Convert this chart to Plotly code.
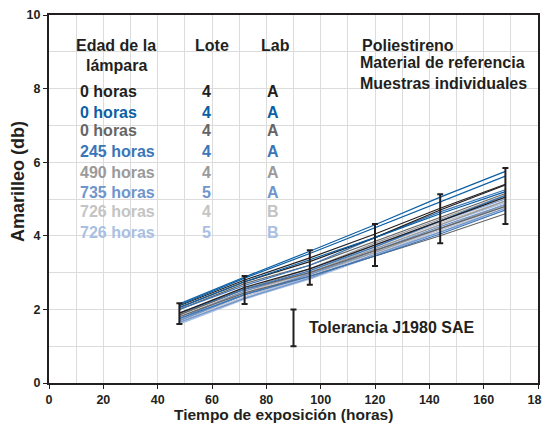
import plotly.graph_objects as go

x_hours = [48, 72, 96, 120, 144, 168]

# one group per lamp age / lot / lab row, 3 samples each
group_labels = ["0 horas", "0 horas", "0 horas", "245 horas", "490 horas", "735 horas", "726 horas", "726 horas"]
group_lote = ["4", "4", "4", "4", "4", "5", "4", "5"]
group_lab = ["A", "A", "A", "A", "A", "A", "B", "B"]
group_colors = ["#231f20", "#0b5fa5", "#666666", "#3a76b8", "#9a9a9a", "#6f95cc", "#c4c4c4", "#a9bfe3"]

yellow = [
    [[2.10, 2.80, 3.40, 4.05, 4.75, 5.40], [2.05, 2.75, 3.30, 3.95, 4.70, 5.38], [1.90, 2.60, 3.10, 3.75, 4.40, 5.05]],
    [[2.15, 2.88, 3.58, 4.30, 5.05, 5.75], [2.12, 2.85, 3.52, 4.22, 4.92, 5.62], [2.05, 2.75, 3.35, 3.95, 4.60, 5.20]],
    [[2.00, 2.70, 3.20, 3.85, 4.50, 5.15], [1.85, 2.55, 3.00, 3.60, 4.20, 4.80], [1.80, 2.45, 2.90, 3.45, 4.00, 4.60]],
    [[2.00, 2.65, 3.20, 3.95, 4.65, 5.25], [1.90, 2.55, 3.05, 3.70, 4.40, 5.10], [1.75, 2.40, 2.90, 3.45, 4.05, 4.70]],
    [[1.85, 2.55, 3.10, 3.80, 4.45, 5.10], [1.80, 2.50, 3.00, 3.65, 4.30, 4.95], [1.70, 2.40, 2.95, 3.55, 4.20, 4.85]],
    [[1.75, 2.50, 3.05, 3.75, 4.40, 5.00], [1.70, 2.40, 2.95, 3.60, 4.25, 4.85], [1.65, 2.30, 2.85, 3.50, 4.10, 4.75]],
    [[1.70, 2.45, 3.00, 3.70, 4.35, 4.95], [1.65, 2.35, 2.90, 3.60, 4.20, 4.85], [1.62, 2.30, 2.85, 3.50, 4.15, 4.75]],
    [[1.68, 2.40, 2.98, 3.65, 4.30, 4.90], [1.62, 2.32, 2.88, 3.55, 4.18, 4.80], [1.60, 2.28, 2.82, 3.45, 4.10, 4.70]],
]

# tolerance band limits at each exposure time
err_low = [1.60, 2.15, 2.67, 3.18, 3.80, 4.32]
err_high = [2.17, 2.91, 3.61, 4.32, 5.13, 5.84]

# SAE J1980 tolerance key
tol_x = 90
tol_low = 1.0
tol_high = 2.0

x_ticks = [0, 20, 40, 60, 80, 100, 120, 140, 160, 180]
y_ticks = [0, 2, 4, 6, 8, 10]

fig = go.Figure()

# draw lightest groups first so darker lines sit on top
order = [6, 7, 4, 5, 2, 3, 0, 1]
for g in order:
    for s in yellow[g]:
        fig.add_trace(go.Scatter(x=x_hours, y=s, mode="lines",
                                 line=dict(color=group_colors[g], width=1.2),
                                 showlegend=False, hoverinfo="skip"))

mid = [(a + b) / 2 for a, b in zip(err_low, err_high)]
fig.add_trace(go.Scatter(
    x=x_hours, y=mid, mode="markers", marker=dict(size=0.1, color="#231f20"),
    error_y=dict(type="data", symmetric=False,
                 array=[h - m for h, m in zip(err_high, mid)],
                 arrayminus=[m - l for m, l in zip(mid, err_low)],
                 color="#231f20", thickness=2, width=3),
    showlegend=False))

tol_mid = (tol_low + tol_high) / 2
fig.add_trace(go.Scatter(
    x=[tol_x], y=[tol_mid], mode="markers", marker=dict(size=0.1, color="#231f20"),
    error_y=dict(type="data", array=[tol_high - tol_mid], color="#231f20", thickness=2, width=3),
    showlegend=False))

font = "Liberation Sans"
bold = dict(family=font, size=16, color="#231f20", weight="bold")

ann = []
ann.append(dict(x=24.7, y=9.18, text="Edad de la", showarrow=False, font=bold))
ann.append(dict(x=24.7, y=8.64, text="lámpara", showarrow=False, font=bold))
ann.append(dict(x=60, y=9.18, text="Lote", showarrow=False, font=bold))
ann.append(dict(x=83.4, y=9.18, text="Lab", showarrow=False, font=bold))

row_y = [7.91, 7.36, 6.85, 6.28, 5.73, 5.19, 4.65, 4.08]
for i in range(8):
    f = dict(bold, color=group_colors[i])
    ann.append(dict(x=10.7, y=row_y[i], text=group_labels[i], showarrow=False, xanchor="left", font=f))
    ann.append(dict(x=58, y=row_y[i], text=group_lote[i], showarrow=False, font=f))
    ann.append(dict(x=82.6, y=row_y[i], text=group_lab[i], showarrow=False, font=f))

ann.append(dict(x=114.5, y=9.18, text="Poliestireno", showarrow=False, xanchor="left", font=bold))
ann.append(dict(x=113.6, y=8.70, text="Material de referencia", showarrow=False, xanchor="left", font=bold))
ann.append(dict(x=113.6, y=8.15, text="Muestras individuales", showarrow=False, xanchor="left", font=bold))
ann.append(dict(x=94.8, y=1.52, text="Tolerancia J1980 SAE", showarrow=False, xanchor="left", font=bold))

# axis titles as annotations for exact placement
ann.append(dict(x=86.3, xref="x", y=0, yref="paper", yshift=-31, yanchor="middle",
                text="Tiempo de exposición (horas)", showarrow=False,
                font=dict(family=font, size=15.5, color="#231f20", weight="bold")))
ann.append(dict(x=0, xref="paper", xshift=-31, xanchor="center", y=5.46, yref="y",
                text="Amarilleo (db)", textangle=-90, showarrow=False,
                font=dict(family=font, size=18, color="#231f20", weight="bold")))

# page body has an 8px margin, so the figure is shrunk by that amount
fig.update_layout(
    width=542, height=417,
    margin=dict(l=41, r=12, t=7, b=42),
    plot_bgcolor="white", paper_bgcolor="white",
    annotations=ann,
    font=dict(family=font, size=13, color="#231f20"),
)
fig.update_xaxes(
    range=[0, 180], tickvals=x_ticks, ticktext=[f"<b>{v}</b>" for v in x_ticks],
    showgrid=True, gridcolor="#dcdcdc", gridwidth=1,
    minor=dict(dtick=10, showgrid=True, gridcolor="#dcdcdc"),
    showline=True, linecolor="#231f20", linewidth=2, mirror=True,
    ticks="outside", ticklen=4, tickcolor="#231f20", zeroline=False,
    automargin=False, ticklabeloverflow="allow",
    tickfont=dict(family=font, size=12.5),
)
fig.update_yaxes(
    range=[0, 10], tickvals=y_ticks, ticktext=[f"<b>{v}</b>" for v in y_ticks],
    showgrid=True, gridcolor="#dcdcdc", gridwidth=1,
    minor=dict(dtick=1, showgrid=True, gridcolor="#dcdcdc"),
    showline=True, linecolor="#231f20", linewidth=2, mirror=True,
    ticks="outside", ticklen=4, tickcolor="#231f20", zeroline=False,
    automargin=False, ticklabeloverflow="allow",
    tickfont=dict(family=font, size=12.5),
)

fig.write_html("out.html")
